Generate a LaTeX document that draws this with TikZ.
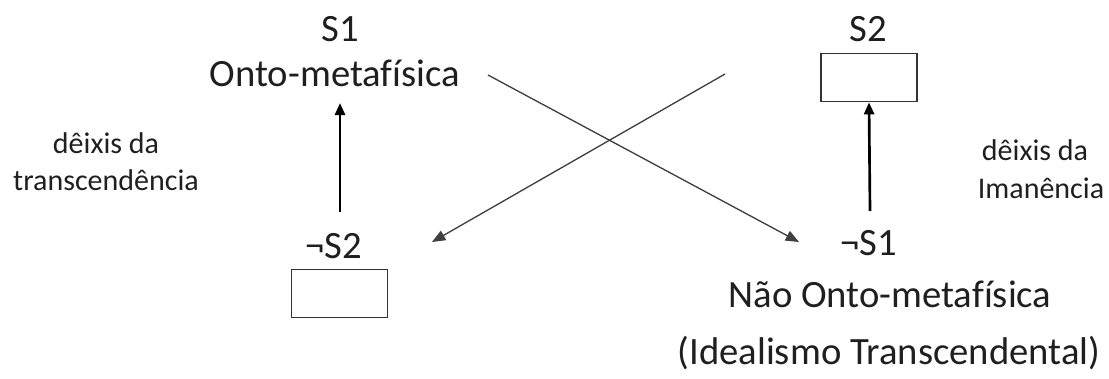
\documentclass[tikz,border=0pt]{standalone}
\usepackage{fontspec}
\setmainfont{Carlito}[Ligatures=NoCommon]
\usetikzlibrary{arrows.meta}
\begin{document}
\begin{tikzpicture}[x=0.75pt,y=-0.75pt,
  big/.style={inner sep=0,anchor=base,font=\fontsize{29}{35}\selectfont,text=black!88},
  small/.style={inner sep=0,anchor=base,font=\fontsize{22.5}{27}\selectfont,text=black!88},
  emptybox/.style={draw=black!80,line width=1.3pt,minimum width=72pt,minimum height=36pt,inner sep=0},
  uparrow/.style={line width=2pt,draw=black,-{Triangle[length=9pt,width=7.5pt]}},
  cross/.style={line width=1pt,draw=black!75,-{Triangle[length=10pt,width=8pt]}}]
\useasboundingbox (0,0) rectangle (1109,378);
% left column
\node[big] (s1) at (340,42) {S1};
\node[big] (onto) at (335,87) {Onto-metafísica};
\node[big] (ns2) at (334,258) {¬S2};
\node[emptybox] (box2) at (339.5,293.5) {};
\coordinate (la) at (340,212);
\coordinate (lb) at (340,103);
\draw[uparrow] (la) -- (lb);
\node[small] (dl1) at (106,153) {dêixis da};
\node[small] (dl2) at (106,190) {transcendência};
% right column
\node[big] (s2) at (868,42) {S2};
\node[emptybox] (box1) at (869,77.5) {};
\node[big] (ns1) at (869,255) {¬S1};
\node[big] (nao) at (890,307) {Não Onto-metafísica};
\node[big] (ideal) at (889,364) {(Idealismo Transcendental)};
\coordinate (ra) at (870,211);
\draw[uparrow] (ra) -- (box1.south);
\node[small] (dr1) at (1035,160) {dêixis da};
\node[small] (dr2) at (1041,198) {Imanência};
% crossing lines
\coordinate (c1s) at (488,75);
\coordinate (c1e) at (799,242);
\coordinate (c2s) at (725,74);
\coordinate (c2e) at (432,242);
\draw[cross] (c1s) -- (c1e);
\draw[cross] (c2s) -- (c2e);
\end{tikzpicture}
\end{document}
